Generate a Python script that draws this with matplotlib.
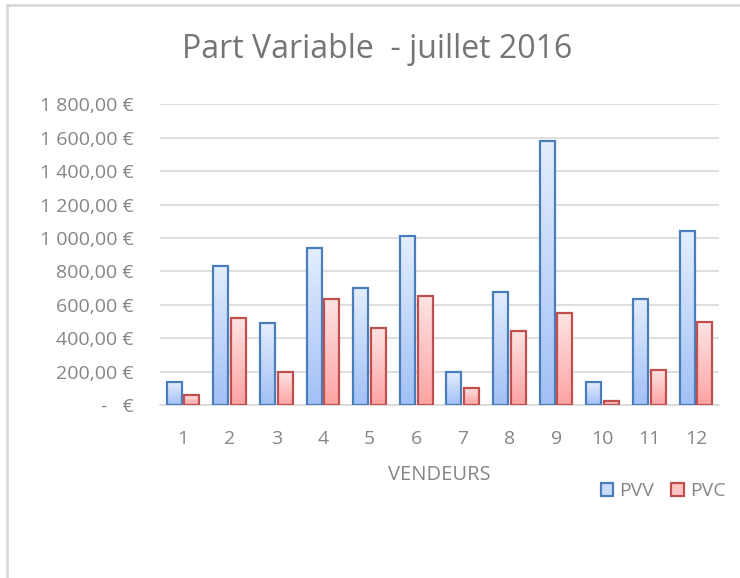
import numpy as np
import matplotlib
matplotlib.use('Agg')
from matplotlib import pyplot as plt
from matplotlib.lines import Line2D
from matplotlib.patches import Rectangle
from matplotlib.ticker import FuncFormatter

vendeurs = ['1', '2', '3', '4', '5', '6', '7', '8', '9', '10', '11', '12']
pvv = [136, 834, 489, 940, 698, 1010, 196, 674, 1580, 136, 636, 1040]
pvc = [60, 519, 196, 636, 459, 651, 104, 445, 551, 24, 211, 495]
y_ticks = [0, 200, 400, 600, 800, 1000, 1200, 1400, 1600, 1800]

W, H = 740, 578
plt.rcParams['font.family'] = ['Open Sans', 'DejaVu Sans']


def euro(v, pos=None):
    if v == 0:
        return '-   €'
    s = f'{v:,.2f}'.replace(',', ' ').replace('.', ',')
    return s + ' €'


def gradient_bars(ax, x, heights, top, bottom, edge):
    bars = ax.bar(x, heights, width=0.32, facecolor='none', edgecolor=edge,
                  linewidth=1.6, zorder=3)
    grad = np.linspace(0, 1, 256).reshape(-1, 1)
    cmap = matplotlib.colors.LinearSegmentedColormap.from_list('g', [top, bottom])
    for b in bars:
        bx, by = b.get_x(), b.get_y()
        bw, bh = b.get_width(), b.get_height()
        im = ax.imshow(grad, cmap=cmap, aspect='auto', origin='upper',
                       extent=(bx, bx + bw, by, by + bh), zorder=2)
        clip = Rectangle((bx, by), bw, bh, transform=ax.transData)
        im.set_clip_path(clip)
    return bars


fig = plt.figure(figsize=(W / 100, H / 100), dpi=100)
ax = fig.add_axes([159.7 / W, 1 - 405 / H, (719.3 - 159.7) / W, (405 - 104.3) / H])

x = np.arange(len(vendeurs))
b1 = gradient_bars(ax, x - 0.19, pvv, '#e4eefd', '#a2c0f6', '#4a7ebb')
b2 = gradient_bars(ax, x + 0.19, pvc, '#fde4e4', '#ffa3a3', '#c0504d')

ax.set_xlim(-0.5, len(vendeurs) - 0.5)
ax.set_ylim(0, 1800)
ax.set_yticks(y_ticks)
ax.yaxis.set_major_formatter(FuncFormatter(euro))
ax.set_xticks(x)
ax.set_xticklabels(vendeurs)
ax.yaxis.grid(True, color='#d9d9d9', linewidth=1.2, zorder=0)
ax.set_axisbelow(True)
for s in ['top', 'right', 'left']:
    ax.spines[s].set_visible(False)
ax.spines['bottom'].set_color('#d9d9d9')
ax.spines['bottom'].set_linewidth(1.2)
ax.tick_params(length=0, colors='#858585', labelsize=14)
ax.tick_params(axis='y', pad=19)
ax.tick_params(axis='x', pad=18)

ax.set_xlabel('VENDEURS', color='#858585', fontsize=14.5, labelpad=12)
fig.text(377 / W, 1 - 50 / H, 'Part Variable  - juillet 2016', ha='center', va='center',
         fontsize=23, color='#757575')

fig.legend([b1[0], b2[0]], ['PVV', 'PVC'], loc='center', bbox_to_anchor=(663 / W, 1 - 491 / H),
           ncol=2, frameon=False, fontsize=14, handlelength=0.65, handleheight=0.65,
           columnspacing=0.9, handletextpad=0.3, labelcolor='#858585')
for h in fig.legends[0].legend_handles:
    h.set_facecolor('#c8dbf9' if h.get_edgecolor()[2] > 0.5 else '#fdc4c4')

# chart frame (left and top edges visible)
fig.add_artist(Line2D([6.5 / W, 6.5 / W], [0, 1 - 5 / H], color='#d9d9d9', linewidth=2,
                      transform=fig.transFigure))
fig.add_artist(Line2D([6.5 / W, 1], [1 - 5 / H, 1 - 5 / H], color='#d9d9d9', linewidth=2,
                      transform=fig.transFigure))

fig.savefig('out.png', dpi=100)
